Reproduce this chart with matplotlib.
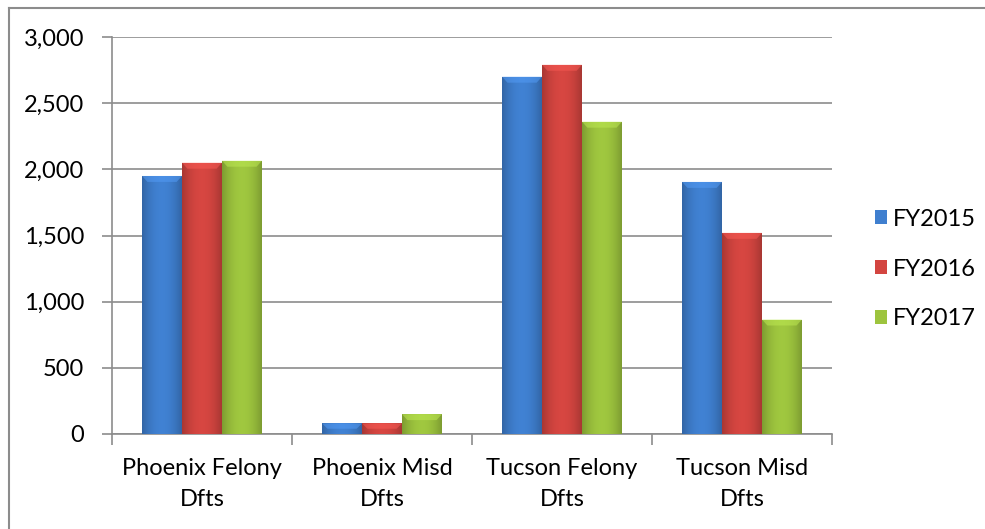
import numpy as np
import matplotlib
matplotlib.use('Agg')
from matplotlib import pyplot as plt
from matplotlib.patches import Patch
from matplotlib.colors import to_rgb

categories = ['Phoenix Felony\nDfts', 'Phoenix Misd\nDfts', 'Tucson Felony\nDfts', 'Tucson Misd\nDfts']
series = ['FY2015', 'FY2016', 'FY2017']
fy2015 = [1950, 80, 2700, 1905]
fy2016 = [2050, 80, 2790, 1520]
fy2017 = [2065, 150, 2360, 865]
colors = ['#3F7FCF', '#D34540', '#9DC43E']

plt.rcParams['font.family'] = ['Lato', 'DejaVu Sans']

fig = plt.figure(figsize=(9.85, 5.29), dpi=100)
ax = fig.add_axes([112 / 985, 95 / 529, 720 / 985, 397 / 529])

grid_c = '#8C8C8C'
fs = 17
x = np.arange(len(categories))
width = 0.222


def gradient_bar(ax, xc, h, color):
    base = np.array(to_rgb(color))
    # darker at the edges, lighter towards the middle
    t = np.linspace(-1, 1, 64)
    shade = 1 - 0.22 * np.abs(t) ** 2
    img = np.clip(base[None, :] * shade[:, None] * 1.02, 0, 1)[None, :, :]
    bar = ax.bar(xc, h, width, color=color, edgecolor='none', zorder=2)[0]
    im = ax.imshow(img, extent=[xc - width / 2, xc + width / 2, 0, h],
                   aspect='auto', zorder=3, interpolation='bicubic')
    im.set_clip_path(bar)
    # top bevel highlight
    bev = min(h * 0.5, 45)
    top = np.clip(base * 1.12 + 0.05, 0, 1)
    ax.fill([xc - width / 2, xc + width / 2, xc + width / 2 - 0.03, xc - width / 2 + 0.03],
            [h, h, h - bev, h - bev], color=top, alpha=0.55, lw=0, zorder=4)


for i, (vals, col) in enumerate(zip([fy2015, fy2016, fy2017], colors)):
    for j, v in enumerate(vals):
        gradient_bar(ax, x[j] + (i - 1) * width, v, col)

ax.set_xlim(-0.5, len(categories) - 0.5)
ax.set_ylim(0, 3000)
ax.set_yticks(np.arange(0, 3001, 500))
ax.set_yticklabels([f'{v:,}' for v in range(0, 3001, 500)])
ax.yaxis.grid(True, color=grid_c, lw=1.2, zorder=0)
ax.set_axisbelow(True)

ax.set_xticks(x)
ax.set_xticklabels(categories, fontsize=fs, linespacing=1.6)
ax.tick_params(axis='x', length=0, pad=17)
ax.set_xticks(np.arange(-0.5, len(categories)), minor=True)
ax.tick_params(axis='x', which='minor', length=8, color=grid_c, width=1.2, direction='out')
ax.tick_params(axis='y', length=7, color=grid_c, width=1.2, labelsize=fs, pad=13)

for s in ['top', 'right']:
    ax.spines[s].set_visible(False)
for s in ['left', 'bottom']:
    ax.spines[s].set_color(grid_c)
    ax.spines[s].set_linewidth(1.2)

handles = [Patch(facecolor=c, edgecolor='none') for c in colors]
fig.legend(handles, series, loc='center left', bbox_to_anchor=(875 / 985, 1 - 269 / 529),
           frameon=False, fontsize=fs, labelspacing=1.22, handlelength=0.52,
           handleheight=0.52, handletextpad=0.25, borderpad=0, borderaxespad=0)

# chart frame (only left and top edges are visible)
fig.add_artist(plt.Line2D([9 / 985, 9 / 985], [0, 1 - 8 / 529], color='#8C8C8C', lw=1.5,
                          transform=fig.transFigure))
fig.add_artist(plt.Line2D([9 / 985, 1], [1 - 8 / 529, 1 - 8 / 529], color='#8C8C8C', lw=1.5,
                          transform=fig.transFigure))

fig.savefig('out.png', dpi=100)
